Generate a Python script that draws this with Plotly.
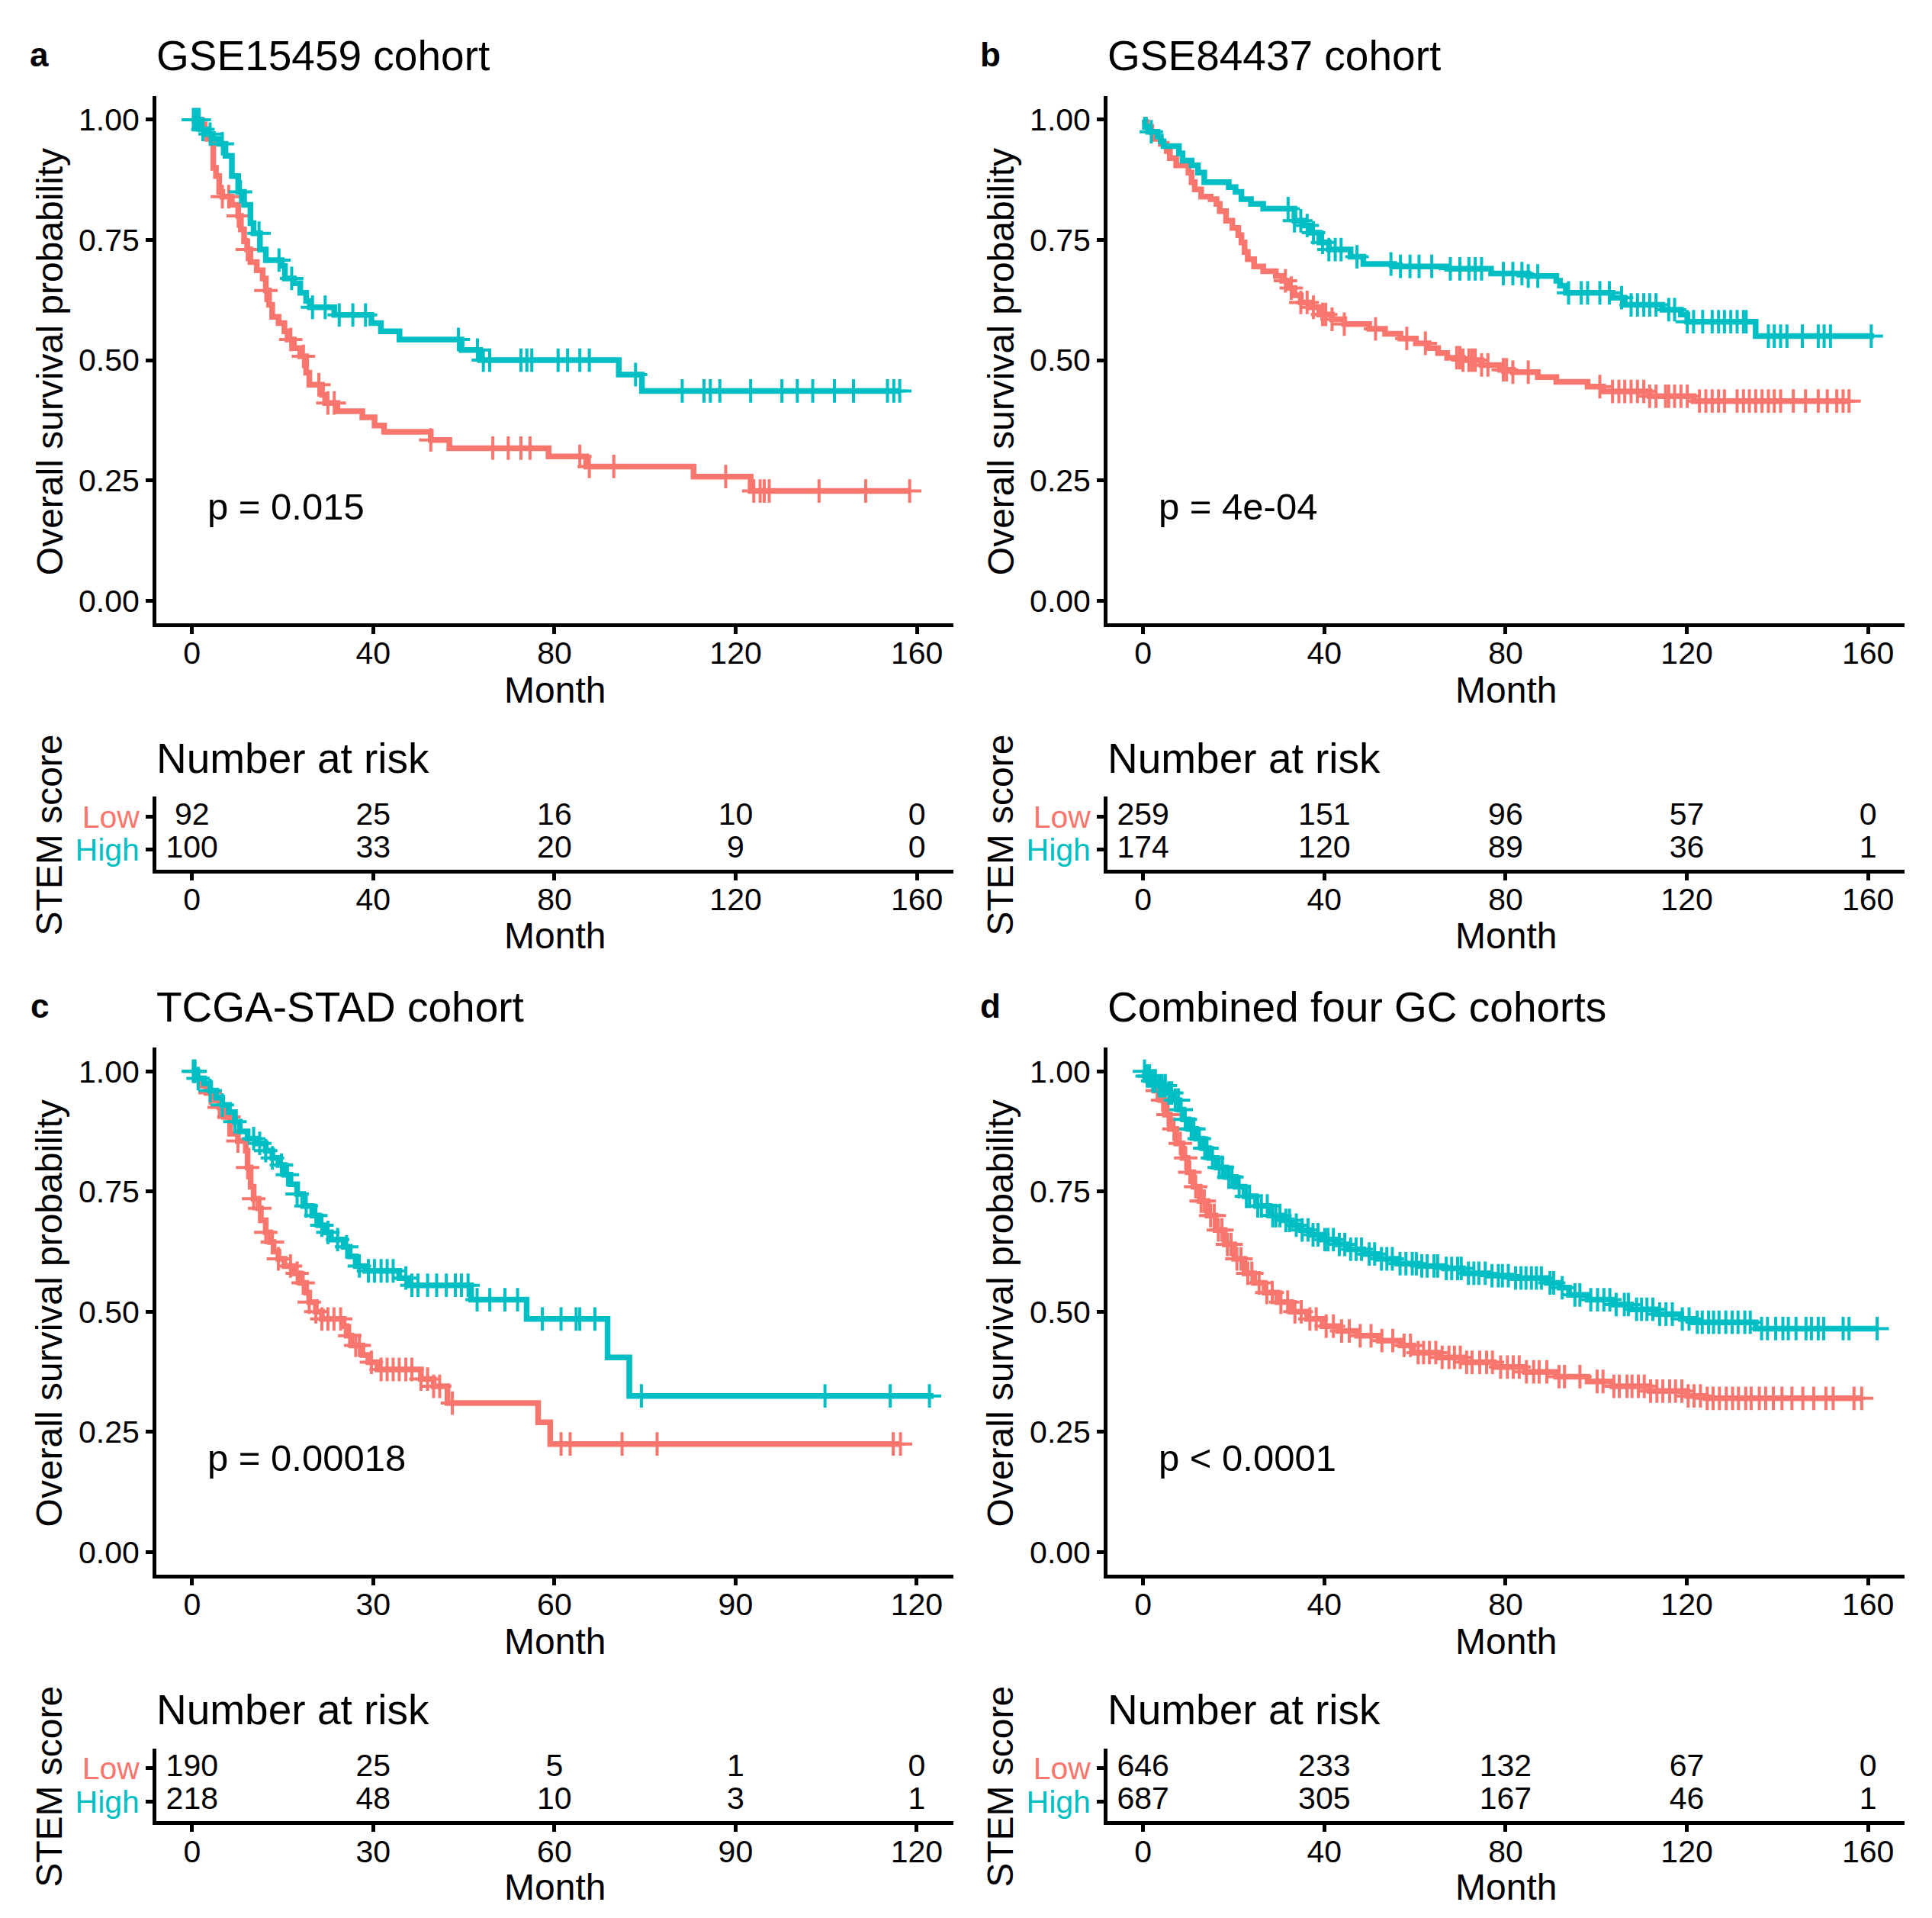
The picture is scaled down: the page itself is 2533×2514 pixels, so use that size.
import numpy as np
import plotly.graph_objects as go

FONT = "Liberation Sans, Arial, sans-serif"
LOW_COLOR = "#F8766D"
HIGH_COLOR = "#00BFC4"

# ---------------- data: panel a (GSE15459) ----------------
a_low_t = [0, 2.2, 2.8, 3.4, 4.7, 5.3, 6.0, 6.7, 8.8, 10.2, 10.8, 11.5, 12.2, 12.9, 14.3, 15.6, 16.3, 17.0, 17.7,
           19.1, 20.4, 21.1, 22.5, 23.9, 25.2, 25.9, 28.7, 29.4, 32.1, 37.6, 40.3, 42.4, 52.7, 56.8, 78.7, 87.0,
           110.7, 123.3, 158.4]
a_low_s = [1, 0.99, 0.975, 0.96, 0.90, 0.883, 0.85, 0.84, 0.823, 0.80, 0.772, 0.747, 0.73, 0.704, 0.687, 0.67,
           0.645, 0.615, 0.59, 0.577, 0.56, 0.543, 0.525, 0.508, 0.474, 0.449, 0.428, 0.411, 0.394, 0.381, 0.364,
           0.351, 0.334, 0.317, 0.30, 0.279, 0.258, 0.228, 0.228]
a_low_cens = [6.7, 8.1, 10.2, 12.2, 16.3, 21.8, 24.6, 28.0, 30.0, 31.4, 52.7, 66.4, 69.8, 72.6, 74.6, 85.6, 87.7,
              93.1, 117.8, 124.0, 125.4, 126.3, 127.4, 138.4, 148.7, 158.4]
a_high_t = [0, 1.8, 3.2, 4.6, 6.0, 7.4, 8.8, 10.2, 11.5, 12.9, 13.6, 15.0, 16.3, 19.8, 20.5, 22.5, 23.9, 25.2,
            26.0, 31.4, 39.6, 41.7, 45.8, 59.5, 63.6, 94.2, 99.3, 156.2]
a_high_s = [1, 0.98, 0.97, 0.96, 0.95, 0.925, 0.883, 0.85, 0.823, 0.785, 0.764, 0.73, 0.708, 0.696, 0.67, 0.66,
            0.64, 0.623, 0.61, 0.594, 0.577, 0.56, 0.543, 0.521, 0.50, 0.47, 0.436, 0.436]
a_high_cens = [0.3, 0.8, 1.2, 1.6, 2.4, 4.0, 6.7, 10.7, 14.8, 19.2, 22.0, 26.6, 29.4, 32.5, 35.5, 38.3, 58.8,
               63.0, 64.3, 65.7, 72.6, 73.9, 75.0, 80.8, 82.9, 85.6, 87.7, 97.9, 108.2, 113.0, 114.4, 116.5,
               123.3, 130.2, 133.6, 137.0, 141.8, 146.0, 153.5, 154.9, 156.2]
a_risk_low = [92, 25, 16, 10, 0]
a_risk_high = [100, 33, 20, 9, 0]

# ---------------- data: panel b (GSE84437) ----------------
b_low_t = [0, 0.4, 0.8, 1.8, 2.5, 3.9, 5.2, 5.9, 7.3, 10.0, 10.7, 11.4, 12.8, 14.9, 16.2, 16.9, 18.3, 19.7, 21.0,
           21.7, 22.4, 23.1, 24.5, 26.5, 29.3, 30.7, 32.0, 33.4, 34.8, 36.9, 38.9, 41.7, 44.4, 49.9, 53.4, 56.8,
           60.2, 63.0, 65.1, 67.1, 70.6, 74.7, 78.8, 81.6, 87.1, 91.2, 98.1, 101.5, 111.8, 121.5, 155.8]
b_low_s = [1, 0.995, 0.985, 0.975, 0.96, 0.95, 0.935, 0.92, 0.905, 0.89, 0.87, 0.855, 0.84, 0.835, 0.825, 0.81,
           0.79, 0.775, 0.76, 0.745, 0.725, 0.71, 0.695, 0.685, 0.675, 0.665, 0.65, 0.635, 0.62, 0.61, 0.595,
           0.585, 0.575, 0.565, 0.555, 0.545, 0.535, 0.525, 0.515, 0.505, 0.50, 0.49, 0.48, 0.475, 0.465, 0.455,
           0.445, 0.435, 0.425, 0.415, 0.415]
b_low_cens = [31.4, 32.7, 34.8, 36.2, 37.6, 39.6, 40.3, 41.7, 44.4, 51.3, 58.2, 62.3, 69.2, 69.9, 70.6, 71.9,
              72.6, 73.3, 74.7, 76.1, 79.5, 80.2, 81.6, 85.0, 100.8, 103.6, 105.0, 106.3, 107.7, 109.1, 110.5,
              111.8, 113.2, 115.3, 116.0, 117.3, 118.7, 120.1, 122.8, 124.2, 125.6, 127.0, 128.3, 131.1, 132.5,
              133.8, 135.2, 136.6, 138.0, 139.3, 140.7, 143.5, 146.2, 149.0, 151.0, 153.1, 154.5, 155.8]
b_high_t = [0, 0.4, 1.1, 3.2, 3.9, 4.5, 7.9, 8.7, 10.7, 12.1, 13.5, 18.9, 20.4, 21.7, 23.8, 26.5, 33.4, 35.5, 36.9,
            38.9, 41.0, 45.8, 48.6, 55.4, 67.1, 76.8, 85.0, 91.2, 92.0, 93.3, 103.6, 106.3, 114.6, 118.7, 120.1,
            135.2, 161.3]
b_high_s = [1, 0.985, 0.975, 0.965, 0.955, 0.945, 0.93, 0.915, 0.905, 0.89, 0.87, 0.86, 0.85, 0.835, 0.825, 0.815,
            0.79, 0.78, 0.765, 0.745, 0.73, 0.715, 0.70, 0.695, 0.69, 0.68, 0.675, 0.665, 0.655, 0.64, 0.63, 0.615,
            0.605, 0.595, 0.58, 0.55, 0.55]
b_high_cens = [1.8, 32.0, 33.4, 34.8, 36.2, 37.6, 39.6, 41.0, 42.4, 43.7, 47.2, 54.7, 56.8, 58.9, 60.9, 63.7,
               67.8, 69.9, 71.9, 73.3, 74.7, 79.5, 81.6, 83.6, 85.0, 87.1, 93.9, 96.7, 98.1, 100.8, 102.9, 105.6,
               107.7, 109.1, 110.5, 111.8, 113.2, 116.0, 117.3, 120.1, 121.5, 123.5, 125.6, 127.0, 128.3, 129.7,
               131.1, 132.5, 133.1, 138.0, 139.3, 140.7, 142.1, 145.5, 149.0, 150.3, 151.7, 160.7]
b_risk_low = [259, 151, 96, 57, 0]
b_risk_high = [174, 120, 89, 36, 1]

# ---------------- data: panel c (TCGA-STAD) ----------------
c_low_t = [0, 0.6, 1.4, 2.4, 3.5, 4.5, 5.3, 6.3, 7.6, 8.9, 9.2, 9.7, 10.2, 11.0, 11.4, 12.2, 12.9, 13.5, 14.3,
           15.3, 16.9, 17.9, 18.9, 19.4, 20.5, 21.5, 25.1, 25.6, 26.4, 28.2, 29.2, 30.7, 37.9, 40.0, 42.3, 57.3,
           59.3, 117.3]
c_low_s = [1, 0.985, 0.97, 0.955, 0.94, 0.925, 0.905, 0.87, 0.855, 0.835, 0.80, 0.76, 0.735, 0.715, 0.69, 0.665,
           0.645, 0.625, 0.61, 0.595, 0.58, 0.56, 0.54, 0.52, 0.50, 0.485, 0.47, 0.45, 0.43, 0.41, 0.395, 0.38,
           0.36, 0.345, 0.31, 0.27, 0.225, 0.225]
c_low_cens = [0.4, 3.0, 4.5, 6.1, 7.6, 9.2, 10.2, 11.2, 12.2, 13.3, 14.3, 16.3, 17.4, 18.4, 19.4, 20.5, 21.5,
              22.5, 23.5, 24.6, 26.1, 27.1, 27.7, 29.7, 31.3, 32.3, 33.3, 34.3, 35.4, 36.4, 37.9, 39.0, 40.0,
              41.0, 43.1, 61.1, 62.6, 71.2, 77.0, 116.1, 117.3]
c_high_t = [0, 0.9, 2.0, 3.0, 4.0, 5.0, 6.1, 7.1, 7.9, 9.2, 10.7, 12.2, 13.3, 14.3, 15.3, 16.3, 17.4, 18.4, 19.9,
            21.0, 22.0, 23.0, 25.1, 26.1, 27.1, 28.7, 34.3, 35.9, 46.2, 55.4, 68.8, 72.4, 122.8]
c_high_s = [1, 0.985, 0.975, 0.96, 0.945, 0.93, 0.915, 0.895, 0.875, 0.86, 0.85, 0.835, 0.82, 0.805, 0.785,
            0.765, 0.745, 0.72, 0.70, 0.68, 0.665, 0.65, 0.635, 0.615, 0.595, 0.585, 0.57, 0.555, 0.525, 0.485,
            0.405, 0.325, 0.325]
c_high_cens = [0.2, 0.5, 1.0, 3.0, 5.0, 7.1, 10.2, 11.2, 12.2, 13.3, 14.8, 15.8, 17.4, 18.9, 20.5, 21.5, 22.5,
               24.1, 25.6, 27.7, 29.2, 30.2, 31.3, 32.3, 33.3, 35.4, 36.4, 37.4, 39.0, 40.5, 42.1, 43.6, 44.6,
               45.7, 47.2, 49.3, 51.8, 53.9, 58.0, 61.1, 63.6, 64.2, 66.7, 74.4, 104.8, 115.6, 122.1]
c_risk_low = [190, 25, 5, 1, 0]
c_risk_high = [218, 48, 10, 3, 1]

# ---------------- data: panel d (combined) ----------------
d_low_t = [0, 1.1, 2.5, 3.9, 4.8, 5.9, 7.3, 8.7, 9.8, 11.1, 12.5, 14.2, 16.0, 18.0, 20.1, 22.4, 24.5, 26.8, 29.6,
           32.7, 36.2, 39.6, 43.1, 47.2, 52.0, 56.8, 59.6, 65.1, 70.6, 77.4, 84.3, 91.2, 98.1, 103.6, 111.8,
           120.1, 124.2, 158.6]
d_low_s = [1, 0.98, 0.96, 0.94, 0.91, 0.88, 0.85, 0.82, 0.79, 0.76, 0.73, 0.70, 0.67, 0.64, 0.61, 0.58, 0.56,
           0.54, 0.52, 0.50, 0.485, 0.47, 0.46, 0.45, 0.44, 0.43, 0.415, 0.405, 0.395, 0.385, 0.375, 0.365, 0.355,
           0.345, 0.335, 0.325, 0.32, 0.32]
d_low_cens = [3.1, 4.3, 5.5, 6.8, 8.2, 9.4, 10.3, 11.6, 12.8, 13.5, 14.9, 15.7, 16.6, 17.4, 18.6, 19.4, 20.7,
              21.6, 23.1, 24.0, 25.6, 27.3, 28.5, 30.4, 31.9, 33.5, 34.9, 36.8, 38.2, 40.4, 42.0, 43.8, 45.5,
              47.9, 50.3, 52.7, 55.1, 57.6, 59.0, 60.7, 61.9, 63.2, 64.6, 66.0, 67.5, 68.7, 70.0, 71.4, 72.6,
              74.3, 75.8, 77.1, 78.9, 80.4, 81.7, 83.0, 84.6, 86.2, 87.4, 89.1, 91.8, 93.0, 96.4, 100.2, 101.5,
              103.9, 105.1, 106.8, 107.9, 109.3, 110.6, 112.0, 113.4, 114.7, 116.2, 117.5, 118.9, 120.3, 121.6,
              123.0, 124.5, 125.8, 127.2, 128.7, 130.1, 131.4, 133.0, 134.2, 136.0, 137.4, 139.1, 141.0, 143.2,
              145.6, 148.0, 150.7, 152.3, 156.9, 158.6]
d_high_t = [0, 0.4, 1.8, 3.2, 5.2, 6.6, 8.0, 8.9, 10.0, 11.7, 13.1, 14.6, 16.2, 18.3, 20.4, 22.4, 24.9, 27.9,
            30.7, 32.7, 34.8, 36.9, 39.2, 42.4, 45.1, 48.6, 52.0, 56.1, 60.9, 66.4, 70.6, 76.1, 81.6, 89.1, 91.9,
            94.0, 98.1, 103.6, 107.7, 113.2, 118.7, 121.5, 135.2, 162.0]
d_high_s = [1, 0.99, 0.98, 0.97, 0.955, 0.94, 0.92, 0.90, 0.88, 0.86, 0.84, 0.82, 0.80, 0.78, 0.76, 0.74, 0.72,
            0.70, 0.69, 0.68, 0.67, 0.66, 0.65, 0.64, 0.63, 0.62, 0.61, 0.60, 0.595, 0.59, 0.58, 0.575, 0.57,
            0.56, 0.55, 0.535, 0.525, 0.515, 0.505, 0.495, 0.485, 0.478, 0.465, 0.465]
d_high_cens = [0.3, 0.9, 1.4, 2.1, 2.7, 3.6, 4.2, 4.9, 5.7, 6.3, 7.1, 7.8, 8.4, 9.3, 10.6, 11.2, 12.4, 13.6,
               14.1, 15.3, 16.8, 17.5, 18.9, 19.6, 21.2, 22.8, 23.5, 25.3, 26.1, 27.4, 28.6, 29.3, 30.2, 31.5,
               32.3, 33.8, 35.1, 36.4, 37.5, 38.6, 40.1, 40.8, 42.0, 43.3, 44.5, 45.8, 47.0, 48.2, 49.9, 51.1,
               52.6, 53.8, 55.0, 56.7, 58.0, 59.4, 60.3, 61.5, 62.7, 64.2, 65.0, 66.9, 68.1, 69.4, 70.2, 71.8,
               73.0, 74.1, 75.5, 77.0, 78.4, 79.3, 80.6, 82.2, 83.4, 84.5, 85.7, 86.8, 87.9, 89.8, 90.6, 92.5,
               95.3, 96.4, 98.8, 100.3, 101.7, 103.0, 104.4, 106.2, 107.1, 108.9, 110.0, 111.2, 112.5, 114.0,
               115.4, 116.8, 119.0, 120.5, 122.3, 123.4, 124.8, 125.9, 127.1, 128.6, 130.0, 131.3, 132.8, 134.0,
               136.5, 137.8, 139.6, 141.2, 142.4, 144.1, 146.3, 147.5, 149.0, 150.2, 154.5, 155.8, 162.0]
d_risk_low = [646, 233, 132, 67, 0]
d_risk_high = [687, 305, 167, 46, 1]

ticks_160 = [0, 40, 80, 120, 160]
ticks_120 = [0, 30, 60, 90, 120]
y_ticks = [0, 0.25, 0.5, 0.75, 1.0]
y_tick_labels = ["0.00", "0.25", "0.50", "0.75", "1.00"]
group_labels = ["Low", "High"]

panels = [
    dict(letter="a", title="GSE15459 cohort", pval="p = 0.015", ticks=ticks_160, xr=[-7.85, 168.1],
         low=(a_low_t, a_low_s, a_low_cens), high=(a_high_t, a_high_s, a_high_cens),
         rl=a_risk_low, rh=a_risk_high, col=0, row=0),
    dict(letter="b", title="GSE84437 cohort", pval="p = 4e-04", ticks=ticks_160, xr=[-7.85, 168.1],
         low=(b_low_t, b_low_s, b_low_cens), high=(b_high_t, b_high_s, b_high_cens),
         rl=b_risk_low, rh=b_risk_high, col=1, row=0),
    dict(letter="c", title="TCGA-STAD cohort", pval="p = 0.00018", ticks=ticks_120, xr=[-5.9, 126.1],
         low=(c_low_t, c_low_s, c_low_cens), high=(c_high_t, c_high_s, c_high_cens),
         rl=c_risk_low, rh=c_risk_high, col=0, row=1),
    dict(letter="d", title="Combined four GC cohorts", pval="p < 0.0001", ticks=ticks_160, xr=[-7.85, 168.1],
         low=(d_low_t, d_low_s, d_low_cens), high=(d_high_t, d_high_s, d_high_cens),
         rl=d_risk_low, rh=d_risk_high, col=1, row=1),
]

# ---- layout grid: positions measured on a 1560 x 1548 grid of the reference,
# mapped to the figure (the page body has an 8px margin) ----
PAGE_W, PAGE_H = 2533, 2514
BODY_MARGIN = 8
FIG_W, FIG_H = PAGE_W - BODY_MARGIN, PAGE_H - BODY_MARGIN
GW, GH = 1560.0, 1548.0

def gx(v):
    return (v * PAGE_W / GW - BODY_MARGIN) / FIG_W

def gy(v):
    return 1 - (v * PAGE_H / GH - BODY_MARGIN) / FIG_H

def surv_at(t_arr, s_arr, times):
    t_arr = np.asarray(t_arr, float)
    s_arr = np.asarray(s_arr, float)
    idx = np.searchsorted(t_arr, np.asarray(times, float), side="right") - 1
    idx = np.clip(idx, 0, len(s_arr) - 1)
    return s_arr[idx]

fig = go.Figure()
layout = {}
annotations = []
TICKFONT = dict(family=FONT, size=41, color="black")

def axname(k):
    return ("x" if k == 1 else f"x{k}"), ("y" if k == 1 else f"y{k}")

def axkey(prefix, k):
    return prefix if k == 1 else f"{prefix}{k}"

for i, p in enumerate(panels):
    dx = 768 * p["col"]
    dy = 768 * p["row"]
    k_km, k_rt = 2 * i + 1, 2 * i + 2
    xa, ya = axname(k_km)
    xr_, yr_ = axname(k_rt)

    for (t, s, cens), color in ((p["low"], LOW_COLOR), (p["high"], HIGH_COLOR)):
        n = min(len(t), len(s))
        fig.add_trace(go.Scatter(x=t[:n], y=s[:n], mode="lines", line=dict(color=color, width=7.5, shape="hv"),
                                 xaxis=xa, yaxis=ya, showlegend=False, hoverinfo="skip"))
        fig.add_trace(go.Scatter(x=cens, y=surv_at(t[:n], s[:n], cens), mode="markers",
                                 marker=dict(symbol="cross-thin", size=22, line=dict(color=color, width=4)),
                                 xaxis=xa, yaxis=ya, showlegend=False, hoverinfo="skip"))

    for row_y, vals in ((2, p["rl"]), (1, p["rh"])):
        fig.add_trace(go.Scatter(x=p["ticks"], y=[row_y] * len(p["ticks"]), mode="text",
                                 text=[str(v) for v in vals], textfont=dict(family=FONT, size=41, color="black"),
                                 textposition="middle center", xaxis=xr_, yaxis=yr_, showlegend=False,
                                 hoverinfo="skip"))

    common = dict(showline=True, linecolor="black", linewidth=5, ticks="outside", ticklen=9, tickwidth=4.5,
                  tickcolor="black", tickfont=TICKFONT, showgrid=False, zeroline=False, fixedrange=True)
    xdom = [gx(126.3 + dx), gx(770 + dx)]
    layout[axkey("xaxis", k_km)] = dict(common, domain=xdom, range=p["xr"], tickvals=p["ticks"], anchor=ya,
                                        ticklabelstandoff=-10)
    layout[axkey("yaxis", k_km)] = dict(common, domain=[gy(503 + dy), gy(77.6 + dy)], range=[-0.047, 1.049],
                                        tickvals=y_ticks, ticktext=y_tick_labels, anchor=xa)
    layout[axkey("xaxis", k_rt)] = dict(common, domain=xdom, range=p["xr"], tickvals=p["ticks"], anchor=yr_,
                                        ticklabelstandoff=-10)
    layout[axkey("yaxis", k_rt)] = dict(
        common, domain=[gy(702 + dy), gy(643 + dy)], range=[0.4, 2.6], tickvals=[2, 1],
        ticktext=[f"<span style='color:{LOW_COLOR}'>{group_labels[0]}</span>",
                  f"<span style='color:{HIGH_COLOR}'>{group_labels[1]}</span>"],
        anchor=xr_)

    def ann(text, x, y, size, xanchor="center", angle=0, bold=False):
        annotations.append(dict(text=f"<b>{text}</b>" if bold else text, x=gx(x + dx), y=gy(y + dy),
                                xref="paper", yref="paper", showarrow=False, xanchor=xanchor, yanchor="middle",
                                textangle=angle, font=dict(family=FONT, size=size, color="black")))

    ann(p["letter"], 32, 44, 44, bold=True)
    ann(p["title"], 125, 45, 55, xanchor="left")
    ann("Overall survival probability", 40, 292, 48, angle=-90)
    ann("Month", 448, 557, 48)
    ann(p["pval"], 166, 409, 49, xanchor="left")
    ann("Number at risk", 125, 612, 55, xanchor="left")
    ann("STEM score", 40, 674, 48, angle=-90)
    ann("Month", 448, 755, 48)

fig.update_layout(**layout)
fig.update_layout(width=FIG_W, height=FIG_H, autosize=False, margin=dict(l=0, r=0, t=0, b=0),
                  paper_bgcolor="white", plot_bgcolor="white", showlegend=False, annotations=annotations)

fig.write_html("out.html")
